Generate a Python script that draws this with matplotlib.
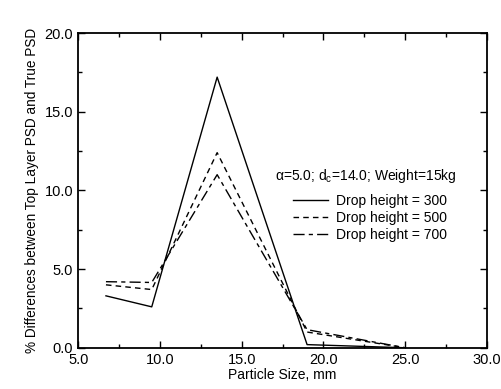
import matplotlib
matplotlib.use("Agg")
import matplotlib.pyplot as plt
from matplotlib.ticker import MultipleLocator, FormatStrFormatter

particle_size = [6.7, 9.5, 13.5, 19.0, 25.0]
drop_300 = [3.3, 2.6, 17.2, 0.2, 0.0]
drop_500 = [4.0, 3.7, 12.4, 1.0, 0.0]
drop_700 = [4.2, 4.15, 11.0, 1.15, 0.0]
labels = ["Drop height = 300", "Drop height = 500", "Drop height = 700"]

plt.rcParams['font.family'] = ['Liberation Sans', 'DejaVu Sans']
plt.rcParams['mathtext.fontset'] = 'custom'
plt.rcParams['mathtext.rm'] = 'Liberation Sans'

fig = plt.figure(figsize=(5.01, 3.89), dpi=100)
ax = fig.add_axes([0.156, 0.106, 0.816, 0.809])

ax.plot(particle_size, drop_300, color='black', lw=1.0, linestyle='-', label=labels[0])
ax.plot(particle_size, drop_500, color='black', lw=1.0, linestyle=(0, (4, 3)), label=labels[1])
ax.plot(particle_size, drop_700, color='black', lw=1.0, linestyle=(0, (8, 3, 3, 3)), label=labels[2])

ax.set_xlim(5, 30)
ax.set_ylim(0, 20)
ax.xaxis.set_major_locator(MultipleLocator(5))
ax.xaxis.set_minor_locator(MultipleLocator(2.5))
ax.yaxis.set_major_locator(MultipleLocator(5))
ax.yaxis.set_minor_locator(MultipleLocator(2.5))
ax.xaxis.set_major_formatter(FormatStrFormatter('%.1f'))
ax.yaxis.set_major_formatter(FormatStrFormatter('%.1f'))
ax.tick_params(which='both', direction='in', top=True, right=True, labelsize=10.5)
ax.tick_params(which='major', length=5, width=1)
ax.tick_params(which='minor', length=3, width=1)
for s in ax.spines.values():
    s.set_linewidth(1.3)

ax.set_xlabel("Particle Size, mm", fontsize=10, labelpad=1)
ax.set_ylabel("% Differences between Top Layer PSD and True PSD", fontsize=9.8, labelpad=4)

ax.text(0.482, 0.546, "α=5.0; d$_\\mathregular{c}$=14.0; Weight=15kg",
        transform=ax.transAxes, fontsize=10, va='center', ha='left')

leg = ax.legend(loc='upper left', bbox_to_anchor=(0.526, 0.49), frameon=False,
                fontsize=10, handlelength=2.5, borderpad=0, borderaxespad=0,
                handletextpad=0.6, labelspacing=0.22)

fig.savefig("out.png", dpi=100)
